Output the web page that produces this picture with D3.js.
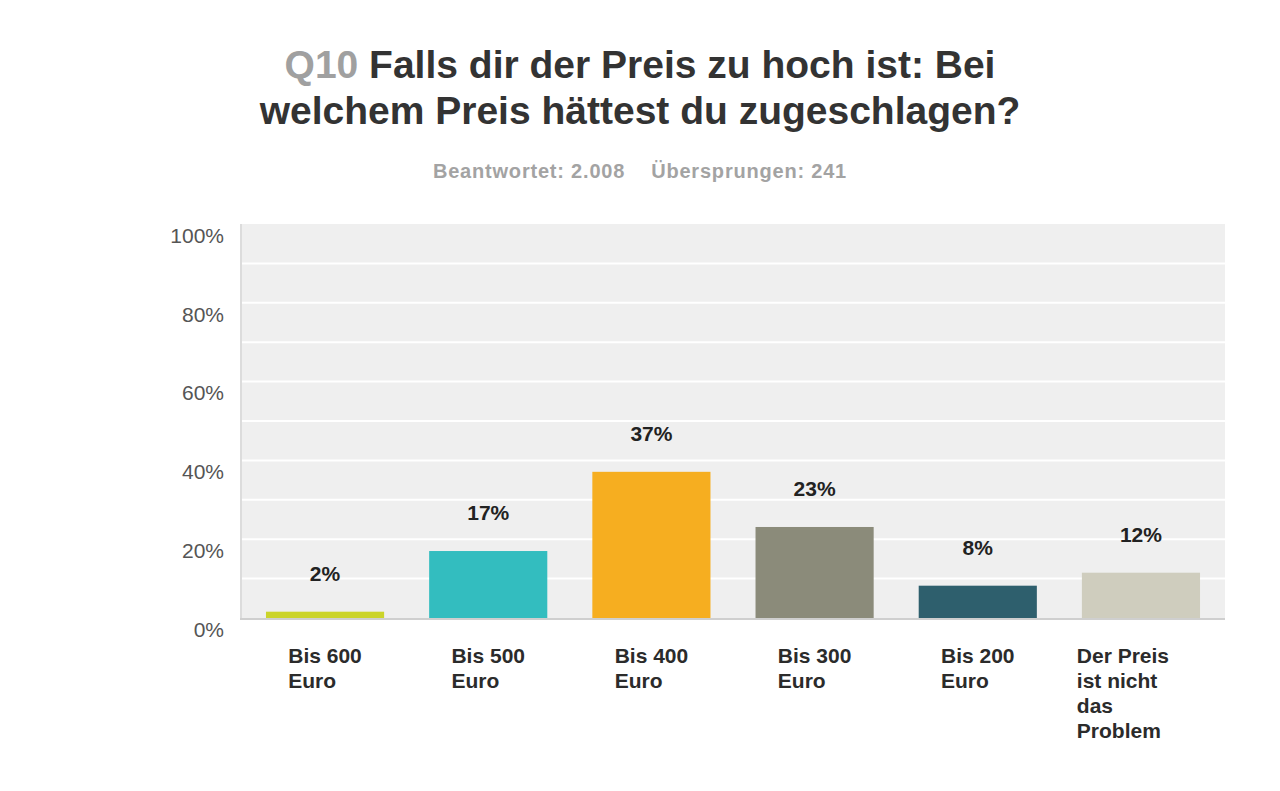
<!DOCTYPE html>
<html>
<head>
<meta charset="utf-8">
<script src="https://cdn.jsdelivr.net/npm/d3@7"></script>
<style>
  body { margin: 0; background: #fff; }
  svg { font-family: "Liberation Sans", Arial, Helvetica, sans-serif; }
</style>
</head>
<body>
<div id="chart"></div>
<script>
const categories = ['Bis 600 Euro', 'Bis 500 Euro', 'Bis 400 Euro', 'Bis 300 Euro', 'Bis 200 Euro', 'Der Preis ist nicht das Problem'];
const values = [1.6, 17.0, 37.1, 23.1, 8.2, 11.5];
const barColors = ['#cbd42a', '#33bdbf', '#f6ae20', '#8b8b7a', '#2e5f6d', '#cfcdbe'];
const yTicks = [0, 20, 40, 60, 80, 100];
const gridValues = [10, 20, 30, 40, 50, 60, 70, 80, 90];

const titleNumber = 'Q10';
const titleLines = ['Falls dir der Preis zu hoch ist: Bei', 'welchem Preis hättest du zugeschlagen?'];
const answered = 'Beantwortet: 2.008';
const skipped = 'Übersprungen: 241';

const width = 1280;
const height = 791;
const plot = { left: 241, right: 1225, top: 224, bottom: 618 };

const svg = d3.select('#chart').append('svg')
    .attr('width', width)
    .attr('height', height);

// Title
const title = svg.append('text')
    .attr('x', 640)
    .attr('y', 78)
    .attr('text-anchor', 'middle')
    .style('font-size', '39px')
    .style('font-weight', 'bold')
    .style('fill', '#333');
title.append('tspan').text(titleNumber + ' ').style('fill', '#a0a0a0');
title.append('tspan').text(titleLines[0]);

svg.append('text')
    .attr('x', 640)
    .attr('y', 124)
    .attr('text-anchor', 'middle')
    .style('font-size', '39px')
    .style('font-weight', 'bold')
    .style('fill', '#333')
    .text(titleLines[1]);

// Subtitle
const sub = svg.append('text')
    .attr('x', 640)
    .attr('y', 178)
    .attr('text-anchor', 'middle')
    .style('font-size', '20px')
    .style('font-weight', 'bold')
    .style('letter-spacing', '0.8px')
    .style('fill', '#a3a3a3');
sub.append('tspan').text(answered);
sub.append('tspan').attr('dx', 26).text(skipped);

// Scales
const x = d3.scaleBand()
    .domain(categories)
    .range([plot.left, plot.right])
    .paddingInner(0.276)
    .paddingOuter(0.153);

const y = d3.scaleLinear()
    .domain([0, 100])
    .range([plot.bottom, plot.top]);

// Plot background
svg.append('rect')
    .attr('x', plot.left)
    .attr('y', plot.top)
    .attr('width', plot.right - plot.left)
    .attr('height', plot.bottom - plot.top)
    .style('fill', '#efefef');

svg.append('g')
  .selectAll('line')
  .data(gridValues)
  .join('line')
    .attr('x1', plot.left)
    .attr('x2', plot.right)
    .attr('y1', d => y(d))
    .attr('y2', d => y(d))
    .style('stroke', '#fff')
    .style('stroke-width', 2);

// left edge and baseline
svg.append('line')
    .attr('x1', plot.left).attr('x2', plot.left)
    .attr('y1', plot.top).attr('y2', plot.bottom + 1)
    .style('stroke', '#dcdcdc')
    .style('stroke-width', 2);

// Bars
svg.append('g')
  .selectAll('rect')
  .data(values)
  .join('rect')
    .attr('x', (d, i) => x(categories[i]))
    .attr('y', d => y(d))
    .attr('width', x.bandwidth())
    .attr('height', d => y(0) - y(d))
    .style('fill', (d, i) => barColors[i]);

svg.append('line')
    .attr('x1', plot.left - 1).attr('x2', plot.right)
    .attr('y1', plot.bottom + 1).attr('y2', plot.bottom + 1)
    .style('stroke', '#cfcfcf')
    .style('stroke-width', 2);

// Value labels
svg.append('g')
  .selectAll('text')
  .data(values)
  .join('text')
    .attr('x', (d, i) => x(categories[i]) + x.bandwidth() / 2)
    .attr('y', d => y(d) - 31)
    .attr('text-anchor', 'middle')
    .style('font-size', '21px')
    .style('font-weight', 'bold')
    .style('fill', '#222')
    .text(d => Math.round(d) + '%');

// Y axis
const yAxis = svg.append('g')
    .attr('transform', `translate(${plot.left - 17},0)`)
    .call(d3.axisLeft(y).tickValues(yTicks).tickSize(0).tickPadding(0).tickFormat(d => d + '%'));
yAxis.select('.domain').remove();
yAxis.selectAll('text')
    .attr('dy', '0.35em')
    .attr('y', 11)
    .style('font-family', '"Liberation Sans", Arial, Helvetica, sans-serif')
    .style('font-size', '21px')
    .style('fill', '#555');

// Category labels, wrapped
const catGroup = svg.append('g');
categories.forEach(cat => {
  const t = catGroup.append('text')
      .attr('y', 663)
      .style('font-size', '21px')
      .style('font-weight', 'bold')
      .style('fill', '#2b2b2b');
  const words = cat.split(' ');
  let line = [];
  let lines = [];
  let tspan = t.append('tspan').attr('x', 0).attr('dy', 0);
  words.forEach(w => {
    line.push(w);
    tspan.text(line.join(' '));
    if (tspan.node().getComputedTextLength() > 100 && line.length > 1) {
      line.pop();
      tspan.text(line.join(' '));
      lines.push(tspan);
      line = [w];
      tspan = t.append('tspan').attr('x', 0).attr('dy', 25).text(w);
    }
  });
  lines.push(tspan);
  const maxW = d3.max(lines, s => s.node().getComputedTextLength());
  // wrapped multi-line blocks sit wider than their text
  const blockW = lines.length > 2 ? maxW + 36 : maxW;
  const left = x(cat) + x.bandwidth() / 2 - blockW / 2;
  t.selectAll('tspan').attr('x', left);
});
</script>
</body>
</html>
